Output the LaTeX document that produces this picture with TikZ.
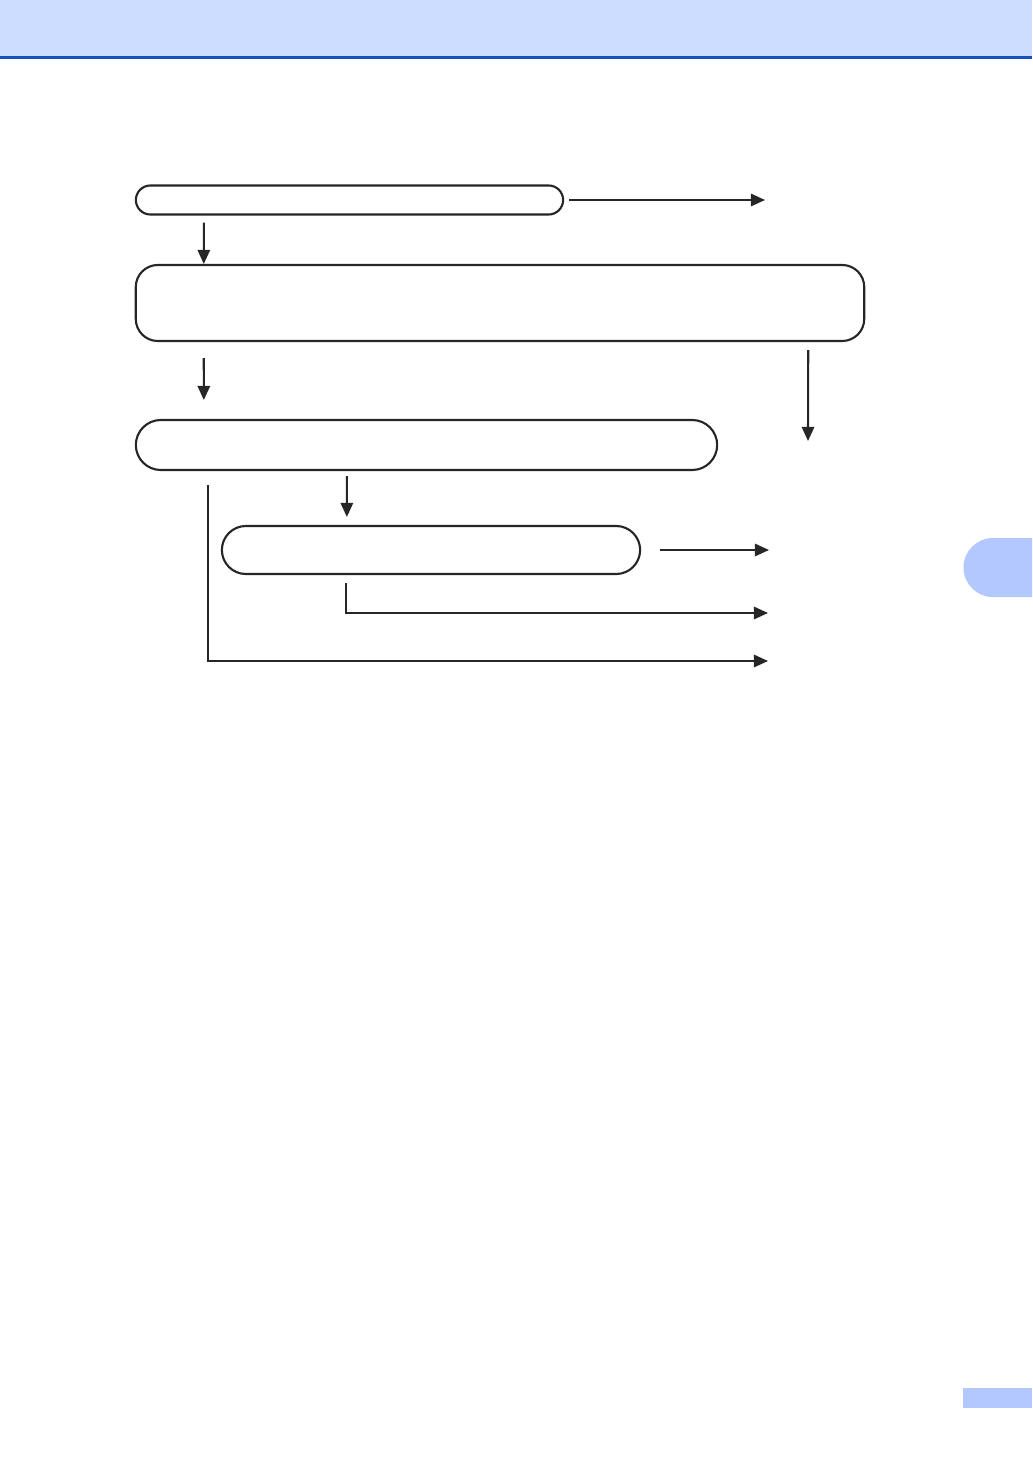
\documentclass[tikz,border=0pt]{standalone}
\usepackage{xcolor}
\usepackage{tikz}
\usetikzlibrary{positioning, arrows.meta, calc}

\definecolor{headband}{RGB}{204,221,255}
\definecolor{headline}{RGB}{24,80,192}
\definecolor{tabblue}{RGB}{179,200,255}

\begin{document}
\begin{tikzpicture}[
    x=0.01cm, y=-0.01cm,
    % Box Styles
    pill/.style={rectangle, draw=black!85, line width=0.6pt, fill=white, inner sep=0pt, outer sep=0pt},
    % Line & Arrow Styles
    line/.style={draw, -{Triangle[length=4pt, width=3.5pt]}, line width=0.6pt, color=black!85}
]
    \useasboundingbox (0,0) rectangle (1032,1458);

    % Page decoration
    \fill[headband] (0,0) rectangle (1032,57);
    \draw[headline, line width=0.7pt] (0,57.5) -- (1032,57.5);
    \fill[tabblue] (1032,538) -- (993,538) arc[start angle=90, end angle=270, radius=0.295cm] -- (1032,597) -- cycle;
    \fill[tabblue] (963,1388) rectangle (1032,1408);

    % Nodes
    \node [pill, rounded corners=0.145cm, minimum width=4.27cm, minimum height=0.29cm] (start) at (349.5,200) {};
    \node [pill, rounded corners=0.22cm, minimum width=7.28cm, minimum height=0.76cm] (check) at (500,303) {};
    \node [pill, rounded corners=0.25cm, minimum width=5.81cm, minimum height=0.50cm] (sort) at (426.5,445) {};
    \node [pill, rounded corners=0.24cm, minimum width=4.18cm, minimum height=0.48cm] (detail) at (431,550) {};

    % Free ends
    \coordinate (outA) at (765,200);
    \coordinate (outB) at (808,441);
    \coordinate (outC) at (769,550);
    \coordinate (outD) at (768,613);
    \coordinate (outE) at (768,661);

    % Connections / Flow
    \draw [line] ($(start.east)+(6,0)$) -- (outA);
    \draw [line] ($(start.south west)+(68,8)$) -- ($(check.north west)+(68,-1)$);
    \draw [line] ($(check.south west)+(68,17)$) -- ($(sort.north west)+(68,-20)$);
    \draw [line] ($(check.south east)+(-56,9)$) -- (outB);
    \draw [line] ($(sort.south west)+(211,6)$) -- ($(detail.north west)+(125,-9)$);
    \draw [line] ($(detail.east)+(20,0)$) -- (outC);

    % Return branches
    \draw [line] ($(detail.south west)+(124,9)$) |- (outD);
    \draw [line] ($(sort.south west)+(72,15)$) |- (outE);

\end{tikzpicture}
\end{document}
